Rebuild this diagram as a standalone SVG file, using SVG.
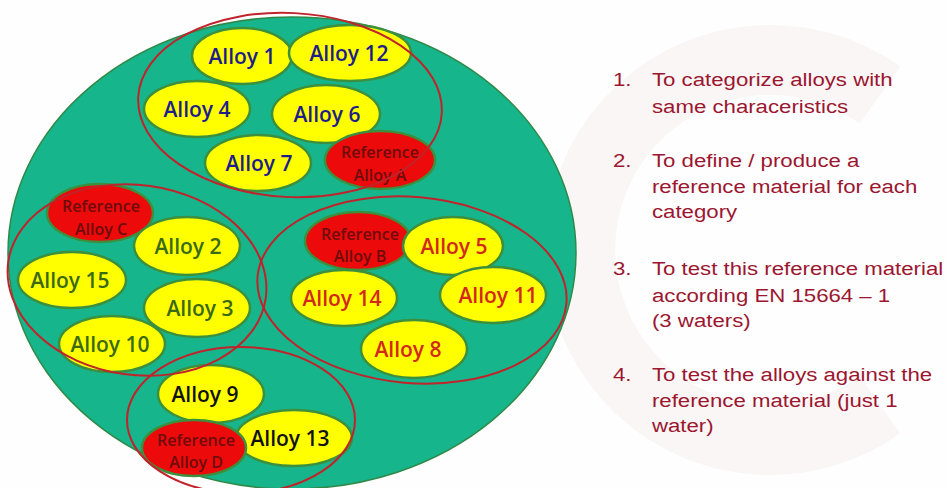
<svg xmlns="http://www.w3.org/2000/svg" width="947" height="488" viewBox="0 0 947 488">
  <style>
    .field { fill: #17b58b; stroke: #2f8a4a; stroke-width: 1.5; }
    .alloy { fill: #ffff00; stroke: #3c8f3c; stroke-width: 2.5; }
    .ref { fill: #ec0a0a; stroke: #3c8f3c; stroke-width: 2.5; }
    .group { fill: none; stroke: #c0232b; stroke-width: 2; }
    .lbl { font-family: "Open Sans", "Noto Sans", sans-serif; font-size: 21px; font-weight: 600; text-anchor: middle; }
    .reflbl { font-family: "Open Sans", "Noto Sans", sans-serif; font-size: 16px; font-weight: 600; text-anchor: middle; fill: #6e0c0c; }
    .ga { fill: #1e1e8a; }
    .gc { fill: #3a6a12; }
    .gb { fill: #d2281a; }
    .gd { fill: #111111; }
    .steps { font-family: "Liberation Sans", Arial, sans-serif; font-size: 19px; fill: #9c1630; }
  </style>

  <rect width="947" height="488" fill="#fefefe"/>
  <!-- faint background emblem -->
  <path d="M 880 95 A 190 190 0 1 0 880 405" fill="none" stroke="#f9f6f5" stroke-width="70"/>

  <!-- overall field -->
  <ellipse class="field" cx="292" cy="253" rx="284" ry="236"/>

  <!-- group A -->
  <g id="alloy1"><ellipse class="alloy" cx="242" cy="56" rx="50" ry="28"/><text class="lbl ga" x="242" y="64">Alloy 1</text></g>
  <g id="alloy12"><ellipse class="alloy" cx="350" cy="53" rx="61" ry="28"/><text class="lbl ga" x="349" y="61">Alloy 12</text></g>
  <g id="alloy4"><ellipse class="alloy" cx="197" cy="109" rx="53" ry="28"/><text class="lbl ga" x="197" y="117">Alloy 4</text></g>
  <g id="alloy6"><ellipse class="alloy" cx="326" cy="114" rx="54" ry="29"/><text class="lbl ga" x="327" y="122">Alloy 6</text></g>
  <g id="alloy7"><ellipse class="alloy" cx="258" cy="163" rx="53" ry="28"/><text class="lbl ga" x="259" y="171">Alloy 7</text></g>
  <g id="refA"><ellipse class="ref" cx="380" cy="160" rx="55" ry="29"/><text class="reflbl" x="380" y="158">Reference</text><text class="reflbl" x="380" y="181">Alloy A</text></g>

  <!-- group C -->
  <g id="refC"><ellipse class="ref" cx="100" cy="213" rx="53" ry="29"/><text class="reflbl" x="101" y="212">Reference</text><text class="reflbl" x="101" y="235">Alloy C</text></g>
  <g id="alloy2"><ellipse class="alloy" cx="187" cy="246" rx="53" ry="29"/><text class="lbl gc" x="188" y="254">Alloy 2</text></g>
  <g id="alloy15"><ellipse class="alloy" cx="72" cy="280" rx="54" ry="28"/><text class="lbl gc" x="70" y="288">Alloy 15</text></g>
  <g id="alloy3"><ellipse class="alloy" cx="197" cy="308" rx="53" ry="29"/><text class="lbl gc" x="200" y="316">Alloy 3</text></g>
  <g id="alloy10"><ellipse class="alloy" cx="112" cy="344" rx="53" ry="28"/><text class="lbl gc" x="110" y="352">Alloy 10</text></g>

  <!-- group B -->
  <g id="refB"><ellipse class="ref" cx="358" cy="241" rx="53" ry="29"/><text class="reflbl" x="360" y="240">Reference</text><text class="reflbl" x="360" y="262">Alloy B</text></g>
  <g id="alloy5"><ellipse class="alloy" cx="453" cy="246" rx="50" ry="29"/><text class="lbl gb" x="454" y="254">Alloy 5</text></g>
  <g id="alloy14"><ellipse class="alloy" cx="344" cy="298" rx="53" ry="28"/><text class="lbl gb" x="342" y="306">Alloy 14</text></g>
  <g id="alloy11"><ellipse class="alloy" cx="493" cy="295" rx="53" ry="28"/><text class="lbl gb" x="498" y="303">Alloy 11</text></g>
  <g id="alloy8"><ellipse class="alloy" cx="414" cy="349" rx="53" ry="29"/><text class="lbl gb" x="408" y="357">Alloy 8</text></g>

  <!-- group D -->
  <g id="alloy9"><ellipse class="alloy" cx="211" cy="394" rx="53" ry="29"/><text class="lbl gd" x="205" y="402">Alloy 9</text></g>
  <g id="alloy13"><ellipse class="alloy" cx="294" cy="438" rx="58" ry="28"/><text class="lbl gd" x="290" y="446">Alloy 13</text></g>
  <g id="refD"><ellipse class="ref" cx="194" cy="448" rx="52" ry="28"/><text class="reflbl" x="196" y="446">Reference</text><text class="reflbl" x="196" y="468">Alloy D</text></g>

  <!-- category outlines -->
  <g id="connectors">
    <ellipse class="group" cx="290" cy="105" rx="152" ry="92" transform="rotate(3 290 105)"/>
    <ellipse class="group" cx="137" cy="280" rx="130" ry="95" transform="rotate(8 137 280)"/>
    <ellipse class="group" cx="412" cy="290" rx="155" ry="93" transform="rotate(5 412 290)"/>
    <ellipse class="group" cx="241" cy="420" rx="114" ry="73"/>
  </g>

  <!-- numbered steps -->
  <g id="steps" class="steps" transform="translate(613 0) scale(1.17 1)">
    <text x="0" y="86">1.</text><text x="33.3" y="86">To categorize alloys with</text>
    <text x="33.3" y="113">same characeristics</text>
    <text x="0" y="167">2.</text><text x="33.3" y="167">To define / produce a</text>
    <text x="33.3" y="193">reference material for each</text>
    <text x="33.3" y="218">category</text>
    <text x="0" y="275">3.</text><text x="33.3" y="275">To test this reference material</text>
    <text x="33.3" y="302">according EN 15664 – 1</text>
    <text x="33.3" y="327">(3 waters)</text>
    <text x="0" y="381">4.</text><text x="33.3" y="381">To test the alloys against the</text>
    <text x="33.3" y="407">reference material (just 1</text>
    <text x="33.3" y="432">water)</text>
  </g>
</svg>
